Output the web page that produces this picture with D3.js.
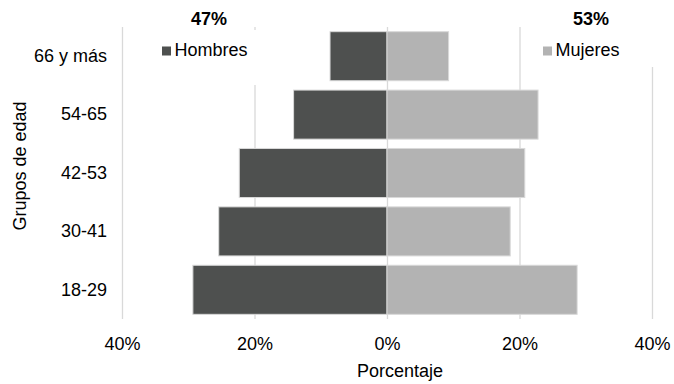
<!DOCTYPE html>
<html><head><meta charset="utf-8">
<script src="https://cdn.jsdelivr.net/npm/d3@7"></script>
<style>body{margin:0;background:#fff}svg{display:block;font-family:"Liberation Sans",Arial,sans-serif}</style>
</head><body><svg id="c" width="674" height="384"></svg>
<script>
const categories = ["18-29", "30-41", "42-53", "54-65", "66 y más"];
const hombres = [29.3, 25.4, 22.3, 14.1, 8.6];
const mujeres = [28.7, 18.6, 20.8, 22.8, 9.3];
const ticks = [-40, -20, 0, 20, 40];
const totals = ["47%", "53%"];
const seriesNames = ["Hombres", "Mujeres"];
const colors = ["#4e504f", "#b3b3b3"];

const FS = 18;
const svg = d3.select("#c");
const x = d3.scaleLinear().domain([-40, 40]).range([122, 652]);
const y = d3.scaleBand().domain(categories.slice().reverse()).range([27, 319]).paddingInner(0.16).paddingOuter(0.08);

// gridlines
const xAxis = d3.axisBottom(x).tickValues(ticks).tickSize(-(319 - 27)).tickFormat(d => Math.abs(d) + "%");
const gx = svg.append("g").attr("transform", "translate(0,319)").call(xAxis);
gx.select(".domain").remove();
gx.selectAll(".tick line").attr("stroke", "#d9d9d9").attr("stroke-width", 1.3);
gx.selectAll(".tick text").attr("font-size", FS).attr("fill", "#000").attr("dy", 0).attr("y", 30.5);

// legend cover boxes (white) hiding gridlines like the original
svg.append("rect").attr("x", 150).attr("y", 30).attr("width", 112).attr("height", 55).attr("fill", "#fff");
svg.append("rect").attr("x", 530).attr("y", 27).attr("width", 130).attr("height", 40).attr("fill", "#fff");

// bars
const data = categories.map((c, i) => ({c, h: hombres[i], m: mujeres[i]}));
svg.append("g").selectAll("rect").data(data).join("rect")
  .attr("x", d => x(-d.h)).attr("width", d => x(0) - x(-d.h))
  .attr("y", d => y(d.c)).attr("height", y.bandwidth())
  .attr("fill", colors[0]).attr("stroke", "#d9d9d9").attr("stroke-width", 1);
svg.append("g").selectAll("rect").data(data).join("rect")
  .attr("x", x(0)).attr("width", d => x(d.m) - x(0))
  .attr("y", d => y(d.c)).attr("height", y.bandwidth())
  .attr("fill", colors[1]).attr("stroke", "#d9d9d9").attr("stroke-width", 1);

// y axis labels
const yAxis = d3.axisLeft(y).tickSize(0).tickPadding(0);
const gy = svg.append("g").attr("transform", "translate(107,0)").call(yAxis);
gy.select(".domain").remove();
gy.selectAll(".tick text").attr("font-size", FS).attr("fill", "#000");

// axis titles
svg.append("text").attr("x", 400).attr("y", 377).attr("text-anchor", "middle").attr("font-size", FS).attr("fill", "#000").text("Porcentaje");
svg.append("text").attr("transform", "translate(26,166) rotate(-90)").attr("text-anchor", "middle").attr("font-size", FS).attr("fill", "#000").text("Grupos de edad");

// totals
const totalX = [209, 591];
totals.forEach((t, i) => {
  svg.append("text").attr("x", totalX[i]).attr("y", 25).attr("text-anchor", "middle")
    .attr("font-size", FS).attr("font-weight", "bold").attr("fill", "#000").text(t);
});

// legend
const legX = [162, 543];
seriesNames.forEach((s, i) => {
  svg.append("rect").attr("x", legX[i]).attr("y", 46.5).attr("width", 9).attr("height", 9).attr("fill", colors[i]);
  svg.append("text").attr("x", legX[i] + 12.5).attr("y", 55.5).attr("font-size", FS).attr("fill", "#000").text(s);
});
</script></body></html>
